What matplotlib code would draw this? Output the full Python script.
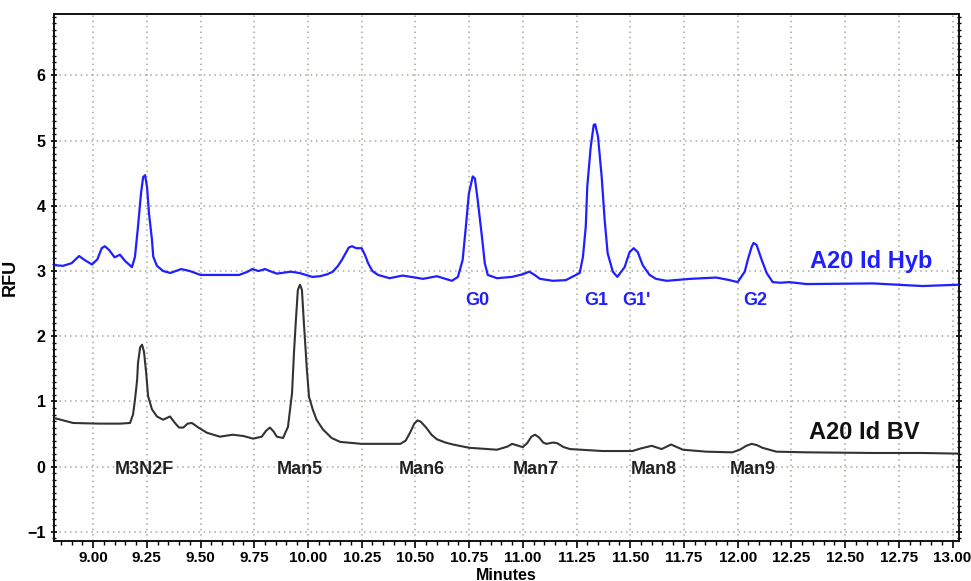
import matplotlib
matplotlib.use("Agg")
import matplotlib.pyplot as plt
from matplotlib.ticker import MultipleLocator, FormatStrFormatter

plt.rcParams['font.family'] = ['Liberation Sans', 'DejaVu Sans']
plt.rcParams['font.weight'] = 'bold'

# Blue trace: A20 Id Hyb (time in minutes, RFU)
hyb_t = [8.818, 8.86, 8.90, 8.935, 8.96, 8.995, 9.02, 9.04, 9.055, 9.075, 9.10, 9.125, 9.15,
         9.181, 9.195, 9.209, 9.223, 9.233, 9.242, 9.251, 9.26, 9.274, 9.28, 9.297, 9.326,
         9.36, 9.41, 9.45, 9.50, 9.68, 9.72, 9.74, 9.77, 9.80, 9.83, 9.855, 9.92, 9.96, 10.02,
         10.056, 10.09, 10.116, 10.14, 10.158, 10.19, 10.205, 10.225, 10.25, 10.265, 10.28,
         10.30, 10.326, 10.38, 10.44, 10.50, 10.535, 10.60, 10.67, 10.698, 10.72, 10.735,
         10.749, 10.767, 10.777, 10.79, 10.81, 10.823, 10.837, 10.88, 10.95, 11.0, 11.03,
         11.055, 11.08, 11.14, 11.20, 11.265, 11.28, 11.293, 11.30, 11.316, 11.33, 11.337,
         11.35, 11.367, 11.381, 11.395, 11.419, 11.44, 11.474, 11.497, 11.516, 11.535, 11.558,
         11.59, 11.62, 11.67, 11.78, 11.90, 11.963, 12.0, 12.033, 12.047, 12.065, 12.074,
         12.088, 12.112, 12.135, 12.163, 12.20, 12.24, 12.32, 12.63, 12.80, 12.86, 13.03]
hyb_y = [3.09, 3.08, 3.12, 3.23, 3.17, 3.10, 3.18, 3.35, 3.38, 3.32, 3.21, 3.25, 3.15,
         3.06, 3.22, 3.68, 4.19, 4.44, 4.47, 4.29, 3.89, 3.48, 3.22, 3.08, 3.00,
         2.97, 3.03, 3.00, 2.94, 2.94, 2.99, 3.03, 3.00, 3.03, 2.99, 2.96, 2.99, 2.97, 2.91,
         2.92, 2.95, 2.99, 3.08, 3.17, 3.36, 3.38, 3.35, 3.35, 3.25, 3.12,
         3.00, 2.94, 2.89, 2.93, 2.90, 2.88, 2.92, 2.85, 2.91, 3.17, 3.68,
         4.19, 4.45, 4.42, 4.09, 3.52, 3.12, 2.94, 2.89, 2.91, 2.95, 2.99,
         2.94, 2.88, 2.85, 2.86, 2.97, 3.22, 3.68, 4.29, 4.90, 5.24, 5.25,
         5.06, 4.45, 3.78, 3.27, 2.99, 2.91, 3.06, 3.29, 3.35, 3.29, 3.09,
         2.94, 2.88, 2.85, 2.88, 2.90, 2.86, 2.83, 2.99, 3.17, 3.37, 3.43,
         3.40, 3.17, 2.97, 2.83, 2.82, 2.83, 2.80, 2.81, 2.78, 2.77, 2.79]

# Black trace: A20 Id BV
bv_t = [8.814, 8.907, 9.03, 9.126, 9.172, 9.186, 9.195, 9.205, 9.209, 9.219, 9.228, 9.237,
        9.247, 9.256, 9.274, 9.297, 9.326, 9.358, 9.381, 9.40, 9.42, 9.44, 9.46, 9.49,
        9.53, 9.59, 9.65, 9.70, 9.745, 9.785, 9.805, 9.823, 9.84, 9.855, 9.884, 9.907,
        9.926, 9.935, 9.944, 9.953, 9.963, 9.972, 9.981, 9.995, 10.005, 10.023, 10.04,
        10.07, 10.11, 10.15, 10.25, 10.43, 10.455, 10.475, 10.495, 10.51, 10.525, 10.55,
        10.575, 10.60, 10.64, 10.675, 10.75, 10.88, 10.93, 10.95, 10.97, 11.0, 11.02,
        11.04, 11.057, 11.075, 11.095, 11.11, 11.14, 11.16, 11.19, 11.22, 11.37, 11.51,
        11.55, 11.60, 11.646, 11.69, 11.745, 11.855, 11.975, 12.01, 12.04, 12.065, 12.09,
        12.115, 12.18, 12.32, 12.63, 12.86, 13.03]
bv_y = [0.75, 0.67, 0.66, 0.66, 0.67, 0.80, 1.03, 1.33, 1.59, 1.83, 1.87, 1.76,
        1.44, 1.08, 0.88, 0.77, 0.72, 0.77, 0.67, 0.60, 0.60, 0.66, 0.67, 0.60,
        0.52, 0.46, 0.49, 0.47, 0.43, 0.46, 0.55, 0.60, 0.54, 0.46, 0.44, 0.61,
        1.13, 1.75, 2.25, 2.71, 2.79, 2.71, 2.21, 1.49, 1.07, 0.87, 0.72,
        0.57, 0.44, 0.38, 0.35, 0.35, 0.40, 0.52, 0.66, 0.71, 0.69, 0.60,
        0.49, 0.42, 0.37, 0.34, 0.29, 0.26, 0.31, 0.35, 0.33, 0.30, 0.36,
        0.46, 0.49, 0.45, 0.37, 0.35, 0.37, 0.36, 0.30, 0.27, 0.24, 0.24,
        0.28, 0.32, 0.27, 0.34, 0.26, 0.23, 0.22, 0.26, 0.32, 0.35, 0.33,
        0.29, 0.23, 0.22, 0.21, 0.21, 0.20]

blue_labels = ["G0", "G1", "G1'", "G2"]
blue_label_t = [10.79, 11.34, 11.53, 12.08]
black_labels = ["M3N2F", "Man5", "Man6", "Man7", "Man8", "Man9"]
black_label_t = [9.24, 9.96, 10.53, 11.06, 11.61, 12.07]

blue = '#1f1fff'
dark = '#333333'

fig = plt.figure(figsize=(9.71, 5.81), dpi=100)
ax = fig.add_axes([0.0556, 0.0688, 0.932, 0.907])

ax.plot(hyb_t, hyb_y, color=blue, lw=1.6, zorder=3, solid_joinstyle='round')
ax.plot(bv_t, bv_y, color=dark, lw=1.5, zorder=3, solid_joinstyle='round')

for lab, t in zip(blue_labels, blue_label_t):
    ax.text(t, 2.55, lab, color=blue, fontsize=13, fontweight='bold', ha='center', va='center')
for lab, t in zip(black_labels, black_label_t):
    ax.text(t, -0.05, lab, color='#222222', fontsize=13, fontweight='bold', ha='center', va='center')

ax.text(12.62, 3.14, "A20 Id Hyb", color=blue, fontsize=17, fontweight='bold', ha='center', va='center')
ax.text(12.59, 0.52, "A20 Id BV", color='#111111', fontsize=17, fontweight='bold', ha='center', va='center')

ax.set_xlim(8.818, 13.03)
ax.set_ylim(-1.14, 6.94)
ax.xaxis.set_major_locator(MultipleLocator(0.25))
ax.xaxis.set_minor_locator(MultipleLocator(0.05))
ax.xaxis.set_major_formatter(FormatStrFormatter('%.2f'))
ax.yaxis.set_major_locator(MultipleLocator(1))
ax.yaxis.set_minor_locator(MultipleLocator(0.1))

ax.grid(True, which='major', color='#a8a89a', linestyle=(0, (1, 2.5)), linewidth=1.1)
ax.tick_params(axis='both', which='major', labelsize=11.5, width=1.2, length=5, direction='out')
ax.tick_params(axis='x', which='major', pad=2.5, labelsize=11)
ax.tick_params(axis='y', which='minor', left=True, right=True, length=3, width=1.0, direction='inout')
ax.tick_params(axis='y', which='major', right=True, direction='inout')
ax.tick_params(axis='x', which='minor', length=3, width=1.0, direction='out')
for lbl in ax.get_xticklabels() + ax.get_yticklabels():
    lbl.set_fontweight('bold')

for sp in ax.spines.values():
    sp.set_linewidth(1.4)
    sp.set_color('#111111')

ax.set_xlabel("Minutes", fontsize=11.5, fontweight='bold')
ax.xaxis.set_label_coords(0.5, -0.051)
ax.set_ylabel("RFU", fontsize=13, fontweight='bold', labelpad=6)

fig.savefig("out.png", dpi=100)
